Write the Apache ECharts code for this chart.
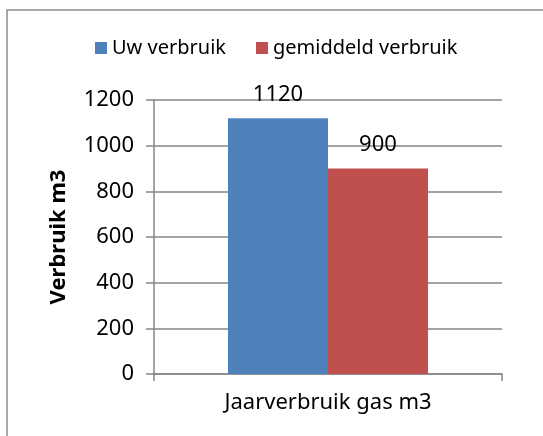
<!DOCTYPE html>
<html>
<head>
<meta charset="utf-8">
<script src="https://cdn.jsdelivr.net/npm/echarts@6/dist/echarts.min.js"></script>
<style>
  html, body { margin: 0; padding: 0; background: #fff; }
  #box1 { width: 543px; height: 436px; }
</style>
</head>
<body>
<div id="box1"></div>
<script>
var categories = ['Jaarverbruik gas m3'];
var uwVerbruik = [1120];
var gemiddeldVerbruik = [900];
var yTicks = [0, 200, 400, 600, 800, 1000, 1200];

var myChart1 = echarts.init(document.getElementById('box1'));
var font = 'Noto Sans';
var option = {
  backgroundColor: '#fff',
  animation: false,
  graphic: [{
    type: 'rect',
    shape: { x: 7, y: 10, width: 560, height: 450 },
    style: { fill: 'none', stroke: '#8c8c8c', lineWidth: 1.5 }
  }],
  legend: {
    data: ['Uw verbruik', 'gemiddeld verbruik'],
    left: 90,
    top: 33,
    icon: 'rect',
    itemWidth: 12,
    itemHeight: 12,
    itemGap: 30,
    textStyle: { color: '#000', fontSize: 20, fontFamily: font }
  },
  grid: { left: 154, right: 41, top: 100, bottom: 62 },
  xAxis: {
    type: 'category',
    data: categories,
    axisLine: { lineStyle: { color: '#868686', width: 1.5 } },
    axisTick: { show: true, length: 7, lineStyle: { color: '#868686', width: 1.5 } },
    axisLabel: { color: '#000', fontSize: 22, fontFamily: font, margin: 18 }
  },
  yAxis: {
    type: 'value',
    min: 0,
    max: 1200,
    interval: 200,
    name: 'Verbruik m3',
    nameLocation: 'middle',
    nameGap: 84,
    nameTextStyle: { color: '#000', fontSize: 22, fontWeight: 'bold', fontFamily: font },
    axisLine: { show: true, lineStyle: { color: '#868686', width: 1.5 } },
    axisTick: { show: true, length: 8, lineStyle: { color: '#868686', width: 1.5 } },
    splitLine: { show: true, lineStyle: { color: '#868686', width: 1.5 } },
    axisLabel: {
      color: '#000', fontSize: 22, fontFamily: font, margin: 20,
      formatter: function (v) { return yTicks.indexOf(v) >= 0 ? String(v) : ''; }
    }
  },
  series: [{
    name: 'Uw verbruik',
    type: 'bar',
    barWidth: 100,
    barGap: '0%',
    itemStyle: { color: '#4f81bd' },
    label: { show: true, position: 'top', distance: 13, color: '#000', fontSize: 22, fontFamily: font },
    data: uwVerbruik
  }, {
    name: 'gemiddeld verbruik',
    type: 'bar',
    barWidth: 100,
    barGap: '0%',
    itemStyle: { color: '#c0504d' },
    label: { show: true, position: 'top', distance: 13, color: '#000', fontSize: 22, fontFamily: font },
    data: gemiddeldVerbruik
  }]
};
myChart1.setOption(option);
</script>
</body>
</html>
